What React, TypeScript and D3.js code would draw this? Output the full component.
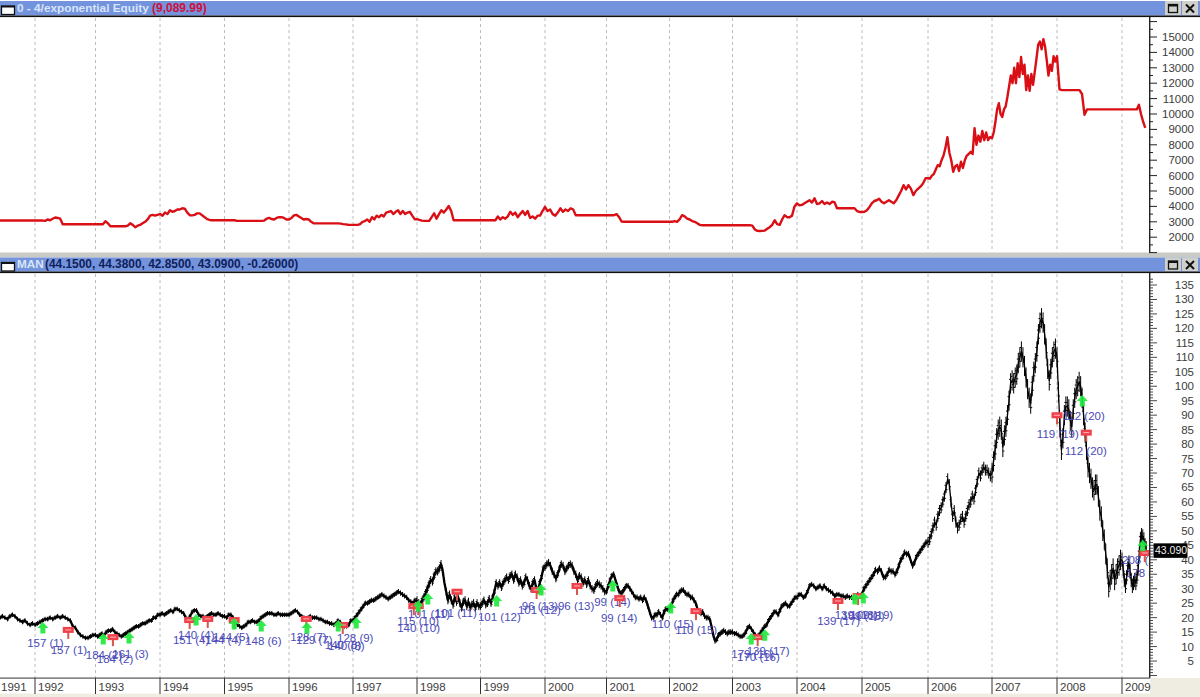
import React from "react";
import * as d3 from "d3";

const yearTicks = [1992,1993,1994,1995,1996,1997,1998,1999,2000,2001,2002,2003,2004,2005,2006,2007,2008,2009];
const yearPixels = [35,95.5,160,224.5,289,353,417,480.5,545,606.5,669.5,732.5,797,862,928,992,1057,1122];
const equityTicks = [2000,3000,4000,5000,6000,7000,8000,9000,10000,11000,12000,13000,14000,15000];

const equityChunks: [number, number, number[]][] = [
  [1991.42,1992,[3080,3080,3080,3080,3080,3080,3080,3080,3080,3080,3080,3080,3080,3080]],
  [1992,1993,[3080,3080,3080,3080,3060,3150,3100,3200,3280,3250,3200,2840,2840,2840,2840,2840,2840,2840,2840,2840,2840,2840,2840,2840]],
  [1993,1994,[2840,2840,2840,2840,3040,2900,2710,2710,2710,2710,2710,2710,2710,2750,2900,2800,2650,2750,2800,2900,3000,3150,3400,3450,3400,3450]],
  [1994,1995,[3500,3400,3600,3500,3750,3650,3700,3800,3800,3880,3850,3600,3430,3420,3450,3550,3550,3420,3300,3170,3120,3100,3100,3100,3100,3100]],
  [1995,1996,[3100,3100,3100,3100,3100,3060,3060,3060,3060,3060,3060,3060,3060,3060,3060,3060,3080,3200,3250,3180,3150,3250,3300,3300,3250,3150]],
  [1996,1997,[3150,3250,3420,3450,3350,3250,3150,3180,3150,3000,2900,2900,2900,2900,2900,2900,2900,2900,2900,2900,2900,2880,2850,2830,2810,2800]],
  [1997,1998,[2800,2800,2800,2850,3000,3050,3150,3000,3300,3150,3400,3300,3450,3350,3600,3650,3700,3500,3650,3750,3500,3700,3500,3600,3650,3400,3170]],
  [1998,1999,[3170,3120,3080,3060,3060,3060,3300,3550,3200,3500,3750,3600,3800,4030,3700,3100,3100,3100,3100,3100,3100,3100,3100,3100,3100,3100]],
  [1999,2000,[3100,3100,3100,3100,3100,3100,3100,3350,3150,3300,3200,3350,3650,3450,3600,3300,3500,3700,3450,3700,3250,3350,3200,3400,3400,3700]],
  [2000,2001,[3970,3700,3800,3500,3400,3600,3880,3650,3800,3700,3880,3800,3430,3430,3430,3430,3430,3430,3430,3430,3430,3430,3430,3430]],
  [2001,2002,[3430,3430,3430,3430,3500,3300,3020,3000,3000,3000,3000,3000,3000,3000,3000,3000,3000,3000,3000,3000,3000,3000,3000,3000,3000]],
  [2002,2003,[3000,3000,3050,3000,3150,3430,3350,3200,3150,3050,3000,2900,2800,2780,2780,2780,2780,2780,2780,2780,2780,2780,2780,2780,2780]],
  [2003,2004,[2780,2780,2780,2780,2780,2780,2780,2780,2750,2500,2410,2400,2410,2430,2550,2650,2800,3100,2850,2800,3150,3430,3300,3300,3400,4000]],
  [2004,2005,[4200,4070,4100,4200,4300,4400,4250,4530,4150,4200,4350,4150,4250,4150,4300,4280,3880,3880,3880,3880,3880,3880,3880,3880,3700,3640]],
  [2005,2006,[3640,3650,3750,3950,4200,4350,4400,4500,4300,4200,4300,4400,4300,4200,4400,4700,5000,5380,5100,5380,5150,4730,5000,5150,5300,5500,5830]],
  [2006,2007,[5830,5800,6000,6100,6400,6680,6600,7000,7300,7800,8500,7500,7000,6240,6600,6700,6300,6900,6500,7000,7300,7400,7540,7400,9080,8000,8600,8200,8900,8300,8800,8300,8500]],
  [2007,2008,[8430,8800,9500,10300,10700,10000,9810,10300,10500,11100,11800,12500,12000,13000,12000,13300,12400,13700,12600,13200,11550,12500,11500,12600,11900,12730,13600,14500,14700,14200,14860,14400,13500,12500,13200,12800,13750,13400]],
  [2008,2009,[13750,11600,11550,11550,11550,11550,11550,11550,11550,11550,11300,9950,10300,10300,10300,10300,10300,10300,10300,10300,10300,10300,10300,10300,10300,10300]],
  [2009,2009.39,[10300,10300,10300,10300,10300,10300,10300,10300,10600,10000,9500,9100]],
];

// [start, end, half-range of the daily bars, closes]
const priceChunks: [number, number, number, number[]][] = [
  [1991.42,1992,0.8,[20,20.5,20,19.5,20.5,21,20.5,19.5,19,18.5,19,18,17.5,18]],
  [1992,1993,0.8,[17.5,18,18.5,19,19.5,19.5,20,19.5,20,20.5,20,20.5,20,19.5,19,17,16.5,15,14,13.5,13,13,13.5,14]],
  [1993,1994,0.8,[14,13.5,14,14.5,14,15,15.5,15.5,16,15,14.5,14,13.5,14,14.5,15,15.5,16,16.5,17,17,17.5,18,18,18.5,19,19,20,20,21]],
  [1994,1995,0.8,[21,21.5,21,21.5,22,22.5,22,23,23,22.5,22,21.5,20,19.5,20.5,22,22.5,22.5,21,20.5,20.5,20,20.5,21,21.5,21,21,21.5,21,20.5]],
  [1995,1996,0.8,[20.5,20,21,21,20,19,17.5,17,16.5,17,17.5,18.5,18.5,19,18.5,18.5,19,20,20.5,21,21.5,21.5,21.5,21,21,21.5,21,21,21,21]],
  [1996,1997,0.8,[21,21.5,22,22.5,22,21,20.5,20,19.5,20,20.5,20,20,20,19.5,19.5,19,18.5,18.5,18,18,17.5,18,19,18.5,17.5,17,17,17.5,19]],
  [1997,1998,0.9,[19,20,21,22,23,24,25,25,25.5,26,26,26.5,27,27.5,28,27.5,27,26.5,27,27.5,28,28.5,29,28.5,28,27.5,27,26,25.5,25,26]],
  [1998,1999,1.4,[26,25,24.5,26,27,28.5,30,31.5,33,32.5,34.5,36,36,37,38.5,36,32,29,26,28,26,24.5,27,25.5,27,25,23.5,25.5,26,24,25.5,23.5,24.5,25,23.5,25,24]],
  [1999,2000,1.3,[24,25,26,24.5,25,26.5,25,27,29,32,31,32,30.5,32,33,34,33,34.5,35,33,35,34,32,33,31,32,34,33,31,30,32,33,30,29.5,32,34,37]],
  [2000,2001,1.3,[37.5,38.5,39,38,36,35,33.5,35,37,38.5,38,36,37,38,38.5,38,36,35,33,34.5,34,32,33,31.5,33,31,30,29.5,31,32,31.5,31,30,29]],
  [2001,2002,1,[29,31,33,34.5,35,33,31,29,28.5,29,30,31,31,30,29,28,27,27,26.5,27,26,27,26,24,22,20,20,21,21,22,21,20,22,23,23]],
  [2002,2003,1,[23,24,26,27,28,28,29,29.5,29.5,28.5,28,28,27,27,26,25,23,22,21.5,22,20.5,20,20,19.5,17,14,12,12.5,14,14.5,15,15.5,15,14.5,15,15]],
  [2003,2004,0.9,[15,14.5,14.5,14,13.5,13.5,14,15,16.5,17,16,15,14,13.5,14,15,16,17,17.5,19,20,21,22,22,21,22.5,24,24.5,25,24,24,25,26,27]],
  [2004,2005,0.9,[27,28,28,27,27.5,29,31,31.5,31,30,30.5,31,30,31,30,29.5,29,28.5,27.5,28,28,27.5,27.5,27,27.5,27,27,26.5,27,28,27.5]],
  [2005,2006,1.1,[28,30,31,32,33,34,35,36.5,36,37,36,34,34,35,36.5,36,36,35,36,38,40,41,42.5,42,42,40,38,39,41,42,43,44,45,46]],
  [2006,2007,1.9,[46,47,49,51,53,52,55,57,58,60,62,65,68,66,60,55,57,53,51,52,54,55,53,55,57,59,60,62,61,64,67,70,69,71,72,71,71,70,69]],
  [2007,2008,3.5,[70,74,78,82,85,86,85,79,83,86,90,95,101,102,101,103,104,108,110,112,110,107,103,99,96,94,100,105,108,112,118,122,123.5,122,118,113,106,102,106,110,112,113]],
  [2008,2009,3.5,[110,98,86,78,82,90,93,93,92,88,86,92,96,99,100,101.5,100,96,90,84,78,72,70,68,65,64,66,66,62,57,55,50,47,42,37,30.5,33,35,37,33,35,37,38,40]],
  [2009,2009.39,2.5,[40,37,33,31,34,37,39,36,33,31,32,33,32,34,37,42,47,48.5,48,47,45,44]],
];

const buyDates = [1992.13,1993.12,1993.52,1994.56,1995.15,1995.57,1996.28,1996.77,1997.05,1998.02,1998.17,1999.25,1999.94,2001.1,2002.02,2003.29,2003.5,2004.89,2005.02,2008.39,2009.32];
const buyPrices = [18.5,14.7,15,21.3,19.9,19.2,18.5,19.2,20.2,26,28.5,27.8,31.6,33,25.4,14.7,16,28.5,28.9,97,46.9];
const sellDates = [1992.55,1993.27,1994.46,1994.74,1995.15,1996.27,1996.84,1997.95,1998.02,1998.63,1999.87,2000.52,2001.21,2002.42,2003.39,2004.63,2004.94,2008.0,2008.45,2009.35];
const sellPrices = [16.8,14.3,20.2,20.6,20.2,20.6,18.5,25,25,30,30.6,32,27.8,23.3,14.3,26.8,28.5,91,85,43.4];

const noteTexts = ["157 (1)","157 (1)","184 (2)","184 (2)","161 (3)","140 (4)","151 (4)","144 (5)","144 (4)","148 (6)","128 (7)","129 (7)","140 (8)","140 (8)","128 (9)","115 (10)","140 (10)","101 (11)","101 (11)","101 (12)","101 (12)","96 (13)","96 (13)","99 (14)","99 (14)","110 (15)","110 (15)","179 (16)","170 (16)","139 (17)","139 (17)","139 (18)","109 (18)","109 (19)","119 (19)","112 (20)","112 (20)","208 (21)","178 (21)"];
const noteDates = [1991.87,1992.26,1992.84,1993.02,1993.26,1994.28,1994.2,1994.82,1994.7,1995.32,1996.02,1996.11,1996.56,1996.61,1996.75,1997.69,1997.69,1997.86,1998.28,1998.96,1999.58,1999.64,2000.21,2000.8,2000.91,2001.72,2002.09,2002.98,2003.07,2003.22,2004.31,2004.58,2004.69,2004.82,2007.69,2008.12,2008.09,2009.0,2009.06];
const notePrices = [11.2,8.8,7.1,5.7,7.4,14,12.3,13.3,12.3,11.9,13.3,12.3,10.5,10.2,13,18.8,16.4,21.3,21.6,20.2,22.6,24,24,25.4,19.9,17.8,15.7,7.4,6.4,8.5,18.8,20.9,20.6,20.9,83.5,77.7,89.7,40,35.4];

const W = 1200, H = 697, AX = 1149;
const x = d3.scaleLinear().domain(yearTicks).range(yearPixels);
const yEq = d3.scaleLinear().domain([2000, 15000]).range([237.2, 37]);
const yPr = d3.scaleLinear().domain([0, 135]).range([675.5, 285]);
const FONT = "'Liberation Sans', Arial, sans-serif";

type Pt = { t: number; v: number; r: number };
function spread(a: number, b: number, r: number, values: number[]): Pt[] {
  return values.map((v, i) => ({ t: a + ((b - a) * i) / values.length, v, r }));
}
const equity = equityChunks.flatMap((c) => spread(c[0], c[1], 0, c[2]));
const priceByYear = priceChunks.map((c) => spread(c[0], c[1], c[2], c[3]));
const price = priceByYear.flat();
const eqLine = d3.line<Pt>().x((d) => x(d.t)).y((d) => yEq(d.v));
const prLine = d3.line<Pt>().x((d) => x(d.t)).y((d) => yPr(d.v));

function TitleBar({ y, h }: { y: number; h: number }) {
  return (
    <g>
      <rect x={0} y={y} width={W} height={h} fill="#7394dc" />
      <rect x={0} y={y + h} width={W} height={1.6} fill="#111" />
      <rect x={1.5} y={y + 5} width={13} height={8.5} fill="#fff" stroke="#111" strokeWidth={1.3} />
      <rect x={1.5} y={y + 5} width={13} height={1.5} fill="#111" />
      <rect x={1165} y={y} width={16} height={h - 0.5} fill="#cfd0cc" />
      <rect x={1182} y={y} width={16} height={h - 0.5} fill="#cfd0cc" />
      <rect x={1168.5} y={y + 3.5} width={9} height={8} fill="none" stroke="#111" strokeWidth={1.3} />
      <rect x={1168.5} y={y + 3.5} width={9} height={2} fill="#111" />
      <path d={`M1186 ${y + 3.5}L1194 ${y + 11.5}M1194 ${y + 3.5}L1186 ${y + 11.5}`} stroke="#111" strokeWidth={2} />
    </g>
  );
}

export default function App() {
  const eqMinor = d3.range(1000, 16001, 500);
  const prMinor = d3.range(0, 138, 1);
  return (
    <svg width={W} height={H} viewBox={`0 0 ${W} ${H}`} style={{ position: "fixed", left: 0, top: 0, display: "block", background: "#fff" }} fontFamily={FONT}>
      <defs>
        <clipPath id="pane"><rect x={0} y={273} width={AX} height={405} /></clipPath>
      </defs>
      <rect x={0} y={252.5} width={W} height={5} fill="#c9c9c6" />
      {yearTicks.map((yr) => (
        <g key={yr} stroke="#bcbcbc" strokeWidth={1} strokeDasharray="3 3">
          <line x1={x(yr)} x2={x(yr)} y1={18} y2={252} />
          <line x1={x(yr)} x2={x(yr)} y1={274} y2={678} />
        </g>
      ))}

      <path d={eqLine(equity) ?? ""} fill="none" stroke="#d90f15" strokeWidth={2.4} strokeLinejoin="round" />

      <g clipPath="url(#pane)">
        {price.map((d, i) => (
          <g key={i} stroke="#000" strokeWidth={1}>
            <line x1={x(d.t)} x2={x(d.t)} y1={yPr(d.v - d.r)} y2={yPr(d.v + d.r)} />
            <line x1={x(d.t) - 1.5} x2={x(d.t)} y1={yPr(d.v + d.r * 0.4)} y2={yPr(d.v + d.r * 0.4)} />
            <line x1={x(d.t)} x2={x(d.t) + 1.5} y1={yPr(d.v - d.r * 0.4)} y2={yPr(d.v - d.r * 0.4)} />
          </g>
        ))}
        {priceByYear.map((pts, i) => (
          <path key={i} d={prLine(priceByYear[i + 1] ? [...pts, priceByYear[i + 1][0]] : pts) ?? ""}
            fill="none" stroke="#000" strokeWidth={pts[0].r >= 1.5 ? 1.3 : 2.3} strokeLinejoin="round" />
        ))}
        {noteTexts.map((s, i) => (
          <text key={i} x={x(noteDates[i])} y={yPr(notePrices[i]) + 4} fontSize={11.5} fill="#4a4ab8">{s}</text>
        ))}
        {sellDates.map((t, i) => {
          const cx = x(t), top = yPr(sellPrices[i]);
          return (
            <g key={i}>
              <rect x={cx - 1} y={top + 4} width={2} height={8} fill="#d8564a" />
              <rect x={cx - 5.5} y={top} width={11} height={6} fill="#f0404a" />
              <rect x={cx - 3} y={top + 2.5} width={6} height={1} fill="#f8b8b8" />
            </g>
          );
        })}
        {buyDates.map((t, i) => {
          const cx = x(t), top = yPr(buyPrices[i]);
          return (
            <path key={i} fill="#1fe83c" opacity={0.92}
              d={`M${cx} ${top}L${cx + 5.5} ${top + 6}L${cx + 2.5} ${top + 6}L${cx + 2.5} ${top + 11.5}L${cx - 2.5} ${top + 11.5}L${cx - 2.5} ${top + 6}L${cx - 5.5} ${top + 6}Z`} />
          );
        })}
      </g>

      {/* right axes */}
      <rect x={AX} y={17} width={1.4} height={235.5} fill="#222" />
      <rect x={AX} y={273} width={1.4} height={405} fill="#222" />
      {eqMinor.map((v) => (
        <line key={v} x1={AX} x2={AX + (v % 1000 === 0 ? 8 : 4)} y1={yEq(v)} y2={yEq(v)} stroke="#222" strokeWidth={1} />
      ))}
      {prMinor.map((v) => (
        <line key={v} x1={AX} x2={AX + (v % 5 === 0 ? 8 : 4)} y1={yPr(v)} y2={yPr(v)} stroke="#333" strokeWidth={0.9} />
      ))}
      {equityTicks.map((v) => (
        <text key={v} x={1194} y={yEq(v) + 4} textAnchor="end" fontSize={11.5} fill="#3c3c3c">{v}</text>
      ))}
      {d3.range(5, 136, 5).map((v) => (
        <text key={v} x={1194} y={yPr(v) + 4} textAnchor="end" fontSize={11.5} fill="#3c3c3c">{v}</text>
      ))}

      <rect x={1153.5} y={yPr(43.09) - 7.5} width={34} height={14.5} fill="#000" />
      <text x={1155} y={yPr(43.09) + 3.5} fontSize={10.5} fill="#f2f2f2">43.090</text>

      {/* bottom date axis */}
      <rect x={0} y={677.5} width={AX + 1} height={1.2} fill="#555" />
      <rect x={0} y={693.5} width={W} height={4} fill="#efede2" />
      <rect x={AX + 1} y={678} width={W - AX} height={19} fill="#efede2" />
      <text x={1} y={691} fontSize={11.5} fill="#3c3c3c">1991</text>
      {yearTicks.map((yr) => (
        <g key={yr}>
          <line x1={x(yr)} x2={x(yr)} y1={678} y2={694} stroke="#333" strokeWidth={1} />
          <text x={x(yr) + 3} y={691} fontSize={11.5} fill="#3c3c3c">{yr}</text>
        </g>
      ))}

      <TitleBar y={1} h={14.5} />
      <TitleBar y={257.5} h={14} />
      <text x={17} y={12} fontSize={11.8} fontWeight="bold" fill="#d8e4fb">0 - 4/exponential Equity</text>
      <text x={152} y={12} fontSize={12} fontWeight="bold" fill="#d0103c">(9,089.99)</text>
      <text x={17} y={268} fontSize={11.8} fontWeight="bold" fill="#d8e4fb">MAN</text>
      <text x={45} y={268} fontSize={11.9} fontWeight="bold" fill="#10205c">(44.1500, 44.3800, 42.8500, 43.0900, -0.26000)</text>
    </svg>
  );
}
